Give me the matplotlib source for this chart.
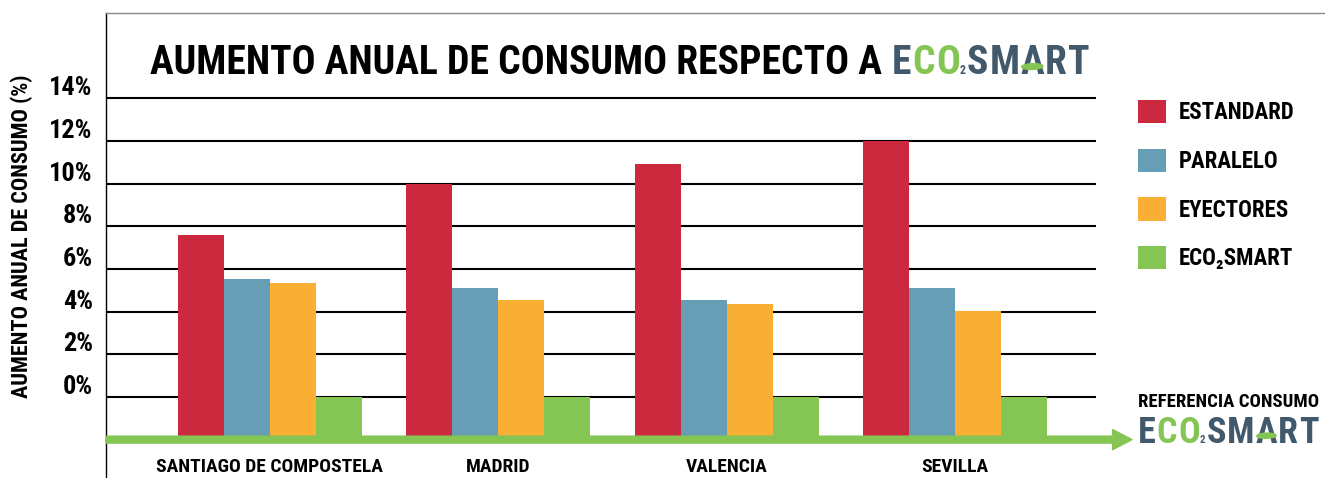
import matplotlib
matplotlib.use("Agg")
import matplotlib.pyplot as plt
from matplotlib import font_manager
from matplotlib.patches import FancyArrowPatch, Ellipse
from matplotlib.lines import Line2D
from matplotlib.transforms import ScaledTranslation
import numpy as np

# Data
cities = ["SANTIAGO DE COMPOSTELA", "MADRID", "VALENCIA", "SEVILLA"]
series = ["ESTANDARD", "PARALELO", "EYECTORES", "ECO₂SMART"]
estandard = [7.6, 10.0, 10.9, 12.0]
paralelo = [5.55, 5.1, 4.55, 5.1]
eyectores = [5.35, 4.55, 4.35, 4.05]
eco2smart = [0.0, 0.0, 0.0, 0.0]
yticks = [0, 2, 4, 6, 8, 10, 12, 14]
base = -2  # bars start on the "referencia" arrow

colors = ["#CB2A3E", "#669EB5", "#F8AF34", "#84C553"]
slate = "#41596A"
green = "#84C553"

names = {f.name for f in font_manager.fontManager.ttflist}
font = next(n for n in ["Roboto Condensed", "Liberation Sans Narrow", "DejaVu Sans"] if n in names)
plt.rcParams["font.family"] = [font, "DejaVu Sans"]
plt.rcParams["font.weight"] = "bold"

W, H = 1325, 478
fig = plt.figure(figsize=(W / 100, H / 100), dpi=100)
ax = fig.add_axes([106 / W, 0, 990 / W, 465 / H])
ax.set_ylim(-3.8, 18.0)
ax.set_xlim(-0.718, 3.618)

x = np.arange(len(cities))
w = 0.2015
handles = []
for k, vals in enumerate([estandard, paralelo, eyectores, eco2smart]):
    heights = [v - base for v in vals]
    b = ax.bar(x + (k - 1.5) * w, heights, w, bottom=base, color=colors[k], zorder=2)
    handles.append(b)

for v in yticks:
    ax.axhline(v, color="black", lw=1.5, zorder=1)

# green reference arrow
x0, x1 = ax.get_xlim()
arrow = FancyArrowPatch((x0, base), (x1 + (x1 - x0) * 0.0364, base),
                        arrowstyle="simple,head_length=14,head_width=14.5,tail_width=5",
                        mutation_scale=1, color=green, shrinkA=0, shrinkB=0,
                        clip_on=False, zorder=3)
ax.add_patch(arrow)

for s in ["top", "right", "bottom"]:
    ax.spines[s].set_visible(False)
ax.spines["left"].set_linewidth(1.0)
fig.add_artist(Line2D([106 / W, 1], [1 - 13 / H, 1 - 13 / H], color="#888888", lw=1.0))

ax.set_xticks([])
ax.set_yticks(yticks, labels=[f"{t}%" for t in yticks])
ax.tick_params(axis="y", length=0, pad=9.5, labelsize=19)
for lab in ax.get_yticklabels():
    lab.set_fontweight("bold")
    lab.set_transform(lab.get_transform() + ScaledTranslation(0, 12.5 / 100, fig.dpi_scale_trans))

for i, c in enumerate(cities):
    ax.text(x[i], -3.28, c, ha="center", va="center", fontsize=14, fontweight="bold")

fig.text(22 / W, 1 - 236 / H, "AUMENTO ANUAL DE CONSUMO (%)", rotation=90,
         ha="center", va="center", fontsize=16, fontweight="bold")

ax.legend(handles, series, loc="upper left", bbox_to_anchor=(1138 / W, 1 - 100 / H),
          bbox_transform=fig.transFigure, frameon=False, borderpad=0, borderaxespad=0,
          handlelength=1.2, handleheight=1.2, handletextpad=0.6, labelspacing=1.05,
          prop=dict(size=16.5, weight="bold"))

renderer = fig.canvas.get_renderer()


def px_text(xp, yp, s, **kw):
    return fig.text(xp / W, 1 - yp / H, s, **kw)


def right_edge(t):
    return t.get_window_extent(renderer).x1


def logo(xp, ybase, size, gap):
    cur = xp
    for ch, col in [("E", slate), ("C", green), ("O", green), ("S", slate),
                    ("M", slate), ("A", slate), ("R", slate), ("T", slate)]:
        t = px_text(cur, ybase, ch, color=col, fontsize=size, fontweight="bold", va="baseline")
        bb = t.get_window_extent(renderer)
        cur = bb.x1 + gap
        if ch == "O":
            two = px_text(cur - 1, ybase, "2", color=slate, fontsize=size * 0.3,
                          fontweight="bold", va="baseline")
            cur = two.get_window_extent(renderer).x1 + 1
        if ch == "A":
            fig.add_artist(Ellipse(((bb.x0 + bb.x1) / 2 / W, 1 - (ybase - size * 0.28) / H),
                                   size * 0.75 / W, size * 0.2 / H, angle=10,
                                   color=green, transform=fig.transFigure, zorder=5))
    return cur


title = px_text(150, 74.5, "AUMENTO ANUAL DE CONSUMO RESPECTO A", fontsize=28.5,
                fontweight="bold", va="baseline", color="black")
logo(right_edge(title) + 10, 74.5, 28.5, 1)

px_text(1138, 402, "REFERENCIA CONSUMO", fontsize=13.5, fontweight="bold", va="center")
logo(1138, 443, 26, 1)

fig.savefig("out.png", dpi=100)
